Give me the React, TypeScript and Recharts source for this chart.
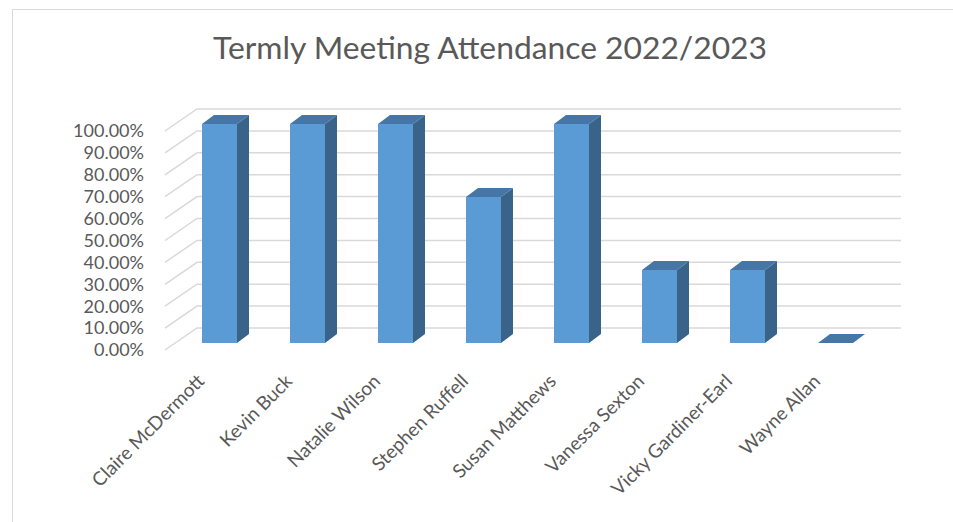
import { BarChart, Bar, XAxis, YAxis, CartesianGrid } from "recharts";

const members = [
  "Claire McDermott",
  "Kevin Buck",
  "Natalie Wilson",
  "Stephen Ruffell",
  "Susan Matthews",
  "Vanessa Sexton",
  "Vicky Gardiner-Earl",
  "Wayne Allan",
];
const attendance = [1, 1, 1, 0.6667, 1, 0.3333, 0.3333, 0];
const yTicks = [0, 0.1, 0.2, 0.3, 0.4, 0.5, 0.6, 0.7, 0.8, 0.9, 1];

const rows = members.map((name, i) => ({ name, value: attendance[i] }));

const FONT = "Lato, 'Open Sans', sans-serif";
const TEXT = "#595959";
// depth of the back wall and of the bars (3d look)
const WALL_DX = 32;
const WALL_DY = -22;
const BAR_DX = 12;
const BAR_DY = -9;
const SHIFT_X = 10;
const SHIFT_Y = -7;

const pct = (v: number) => (v * 100).toFixed(2) + "%";

function Bar3D(props: any) {
  const { x, y, width, height } = props;
  const fx = x + SHIFT_X;
  const fy = y + SHIFT_Y;
  const h = Math.max(height || 0, 0);
  const top = `${fx},${fy} ${fx + BAR_DX},${fy + BAR_DY} ${fx + width + BAR_DX},${fy + BAR_DY} ${fx + width},${fy}`;
  const side = `${fx + width},${fy} ${fx + width + BAR_DX},${fy + BAR_DY} ${fx + width + BAR_DX},${fy + h + BAR_DY} ${fx + width},${fy + h}`;
  return (
    <g>
      {h > 0 && <rect x={fx} y={fy} width={width} height={h} fill="#5B9BD5" />}
      {h > 0 && <polygon points={side} fill="#3A6389" />}
      <polygon points={top} fill="#4676A5" />
    </g>
  );
}

function WallLine(props: any) {
  const { x1, x2, y1 } = props;
  return (
    <path
      d={`M${x1},${y1} L${x1 + WALL_DX},${y1 + WALL_DY} L${x2 + WALL_DX},${y1 + WALL_DY}`}
      stroke="#D9D9D9"
      strokeWidth={1.5}
      fill="none"
    />
  );
}

function NameTick(props: any) {
  const { x, y, payload } = props;
  const ax = x - 13;
  const ay = y + 15;
  return (
    <text
      x={ax}
      y={ay}
      textAnchor="end"
      transform={`rotate(-45, ${ax}, ${ay})`}
      fill={TEXT}
      fontSize={19}
      fontFamily={FONT}
      dy="0.7em"
    >
      {payload.value}
    </text>
  );
}

export default function App() {
  return (
    <div style={{ position: "relative", width: 953, height: 522, overflow: "hidden", background: "#fff" }}>
      <style>{"body{margin:0}"}</style>
      <div
        style={{
          position: "absolute",
          left: 12,
          top: 9,
          right: -4,
          bottom: -4,
          borderTop: "1.5px solid #D9D9D9",
          borderLeft: "1.5px solid #D9D9D9",
        }}
      />
      <div
        style={{
          position: "absolute",
          left: 490,
          top: 28,
          transform: "translateX(-50%)",
          whiteSpace: "nowrap",
          fontFamily: FONT,
          fontSize: 31.8,
          color: TEXT,
        }}
      >
        Termly Meeting Attendance 2022/2023
      </div>
      <div style={{ position: "absolute", left: 0, top: 0 }}>
        <BarChart
          width={953}
          height={522}
          data={rows}
          margin={{ top: 131, right: 84, bottom: 0, left: 85 }}
        >
          <CartesianGrid vertical={false} horizontal={(p: any) => <WallLine key={p.key} {...p} />} />
          <XAxis
            dataKey="name"
            interval={0}
            axisLine={false}
            tickLine={false}
            tick={<NameTick />}
            height={172}
          />
          <YAxis
            domain={[0, 1]}
            ticks={yTicks}
            interval={0}
            tickFormatter={pct}
            axisLine={false}
            tickLine={false}
            width={80}
            tickMargin={15}
            tick={{ fill: TEXT, fontSize: 18, fontFamily: FONT }}
          />
          <Bar dataKey="value" barSize={35} shape={<Bar3D />} isAnimationActive={false} />
        </BarChart>
      </div>
    </div>
  );
}
